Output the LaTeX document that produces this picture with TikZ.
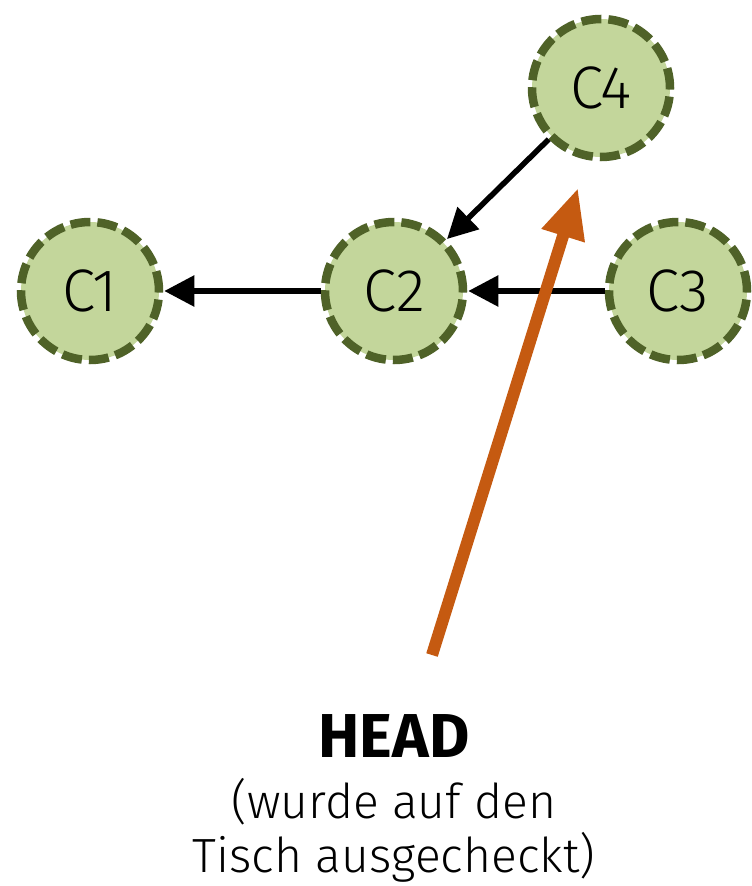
\documentclass[tikz,border=0pt]{standalone}
\usepackage{fontspec}
\setmainfont{Fira Sans Light}[BoldFont={Fira Sans Bold}]
\usetikzlibrary{arrows.meta}
\definecolor{cfill}{HTML}{C3D69B}
\definecolor{cline}{HTML}{4F6228}
\definecolor{corange}{HTML}{C55A11}
\begin{document}
\begin{tikzpicture}[x=1pt,y=-1pt,
  commit/.style={circle,minimum size=138pt,inner sep=0pt,fill=cfill,draw=cline,line width=8.5pt,dash pattern=on 20pt off 7pt,font=\fontsize{60}{60}\selectfont},
  parent/.style={-{Triangle[length=30pt,width=30pt]},line width=5.5pt,shorten >=1pt},
]
\useasboundingbox (0,0) rectangle (752,886);
\node[commit] (c1) at (90,291) {C1};
\node[commit] (c2) at (394,291) {C2};
\node[commit] (c3) at (678,291) {C3};
\node[commit] (c4) at (601,88) {C4};
\draw[parent] (c2) -- (c1);
\draw[parent] (c3) -- (c2);
\draw[parent] (c4) -- (c2);
\node[font=\fontsize{62}{62}\selectfont\bfseries] (head) at (394,736) {HEAD};
\node[font=\fontsize{48}{54}\selectfont,align=center] (desc) at (394,830) {(wurde auf den\\Tisch ausgecheckt)};
\coordinate (tip) at (578,188);
\coordinate (tail) at (432,655);
\draw[-{Triangle[length=50pt,width=42pt]},line width=12pt,draw=corange,fill=corange] (tail) -- (tip);
\end{tikzpicture}
\end{document}
